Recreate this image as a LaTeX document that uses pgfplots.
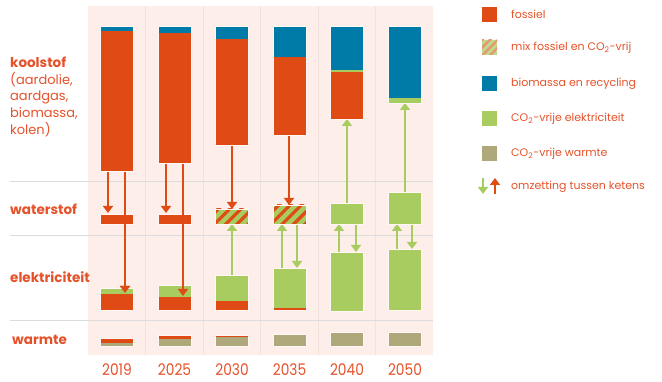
\documentclass[border=0pt]{standalone}
\usepackage{fontspec}
\setmainfont{Poppins}
\usepackage{pgfplots}
\pgfplotsset{compat=1.18}
\usetikzlibrary{arrows.meta,patterns.meta}
\definecolor{fos}{HTML}{E04A14}
\definecolor{bio}{HTML}{007BA7}
\definecolor{grn}{HTML}{A9CC60}
\definecolor{wrm}{HTML}{AEA87A}
\definecolor{txt}{HTML}{E5522A}
\definecolor{bg}{HTML}{FDEEE9}
\definecolor{sep}{HTML}{F1E1DC}
\definecolor{hl}{HTML}{DCDCDC}
% rectangle: x1 x2 ytop ybottom style
\newcommand{\rect}[5]{\addplot[#5] coordinates {(#1,#3) (#2,#3) (#2,#4) (#1,#4)} -- cycle;}
\newcommand{\barr}[5]{\addplot[#5,draw=none] coordinates {(#1,#3) (#2,#3) (#2,#4) (#1,#4)} -- cycle;}
\newcommand{\outl}[4]{\addplot[draw=white!55!bg,line width=0.6pt,fill=none] coordinates {(#1,#3) (#2,#3) (#2,#4) (#1,#4)} -- cycle;}
\newcommand{\arr}[4]{\addplot[#4,line width=1.8pt,-{Triangle[width=10pt,length=7pt]}] coordinates {(#1,#2) (#1,#3)};}
\tikzset{hatch/.style={fill=grn,postaction={pattern={Lines[angle=45,distance=8pt,line width=3.2pt]},pattern color=fos}}}
\begin{document}
\begin{tikzpicture}
\begin{axis}[width=662pt,height=382pt,scale only axis,xmin=0,xmax=662,ymin=0,ymax=382,
  y dir=reverse,hide axis,clip=false]
% full-size invisible frame (bounding box)
\addplot[draw=none] coordinates {(0,0) (662,382)};
% background panel
\rect{88}{433}{6}{355}{fill=bg,draw=none}
% column separators
\addplot[sep,line width=0.8pt] coordinates {(145.5,6) (145.5,355)};
\addplot[sep,line width=0.8pt] coordinates {(203,6) (203,355)};
\addplot[sep,line width=0.8pt] coordinates {(260.5,6) (260.5,355)};
\addplot[sep,line width=0.8pt] coordinates {(318,6) (318,355)};
\addplot[sep,line width=0.8pt] coordinates {(375.5,6) (375.5,355)};
% horizontal separators
\addplot[hl,line width=1pt] coordinates {(10,182) (433,182)};
\addplot[hl,line width=1pt] coordinates {(10,236) (433,236)};
\addplot[hl,line width=1pt] coordinates {(10,321) (433,321)};
% arrows (drawn before bars)
\arr{108}{171}{213}{fos}
\arr{125}{171}{293}{fos}
\arr{166}{163}{213}{fos}
\arr{183}{163}{296}{fos}
\arr{232}{145}{209}{fos}
\arr{289}{135}{205}{fos}
\arr{347}{203}{119}{grn}
\arr{405}{192}{103}{grn}
\arr{232}{275}{224}{grn}
\arr{282}{268}{224}{grn}
\arr{297}{224}{268}{grn}
\arr{339}{252}{224}{grn}
\arr{356}{224}{252}{grn}
\arr{397}{249}{224}{grn}
\arr{412}{224}{249}{grn}
% koolstof
\barr{100.7}{133.3}{26}{31}{fill=bio}
\barr{100.7}{133.3}{31}{171}{fill=fos}
\outl{100.7}{133.3}{26}{171}
\barr{158.2}{190.8}{26}{33}{fill=bio}
\barr{158.2}{190.8}{33}{163}{fill=fos}
\outl{158.2}{190.8}{26}{163}
\barr{215.7}{248.3}{26}{39}{fill=bio}
\barr{215.7}{248.3}{39}{145}{fill=fos}
\outl{215.7}{248.3}{26}{145}
\barr{273.2}{305.8}{26}{57}{fill=bio}
\barr{273.2}{305.8}{57}{135}{fill=fos}
\outl{273.2}{305.8}{26}{135}
\barr{330.7}{363.3}{26}{70}{fill=bio}
\barr{330.7}{363.3}{70}{72.5}{fill=grn}
\barr{330.7}{363.3}{72.5}{119}{fill=fos}
\outl{330.7}{363.3}{26}{119}
\barr{388.7}{421.3}{26}{98}{fill=bio}
\barr{388.7}{421.3}{98}{103}{fill=grn}
\outl{388.7}{421.3}{26}{103}
% waterstof
\barr{100.7}{133.3}{214}{224}{fill=fos}
\outl{100.7}{133.3}{214}{224}
\barr{158.2}{190.8}{214}{224}{fill=fos}
\outl{158.2}{190.8}{214}{224}
\barr{215.7}{248.3}{209}{224}{hatch}
\outl{215.7}{248.3}{209}{224}
\barr{273.2}{305.8}{205}{224}{hatch}
\outl{273.2}{305.8}{205}{224}
\barr{330.7}{363.3}{203}{224}{fill=grn}
\outl{330.7}{363.3}{203}{224}
\barr{388.7}{421.3}{192}{224}{fill=grn}
\outl{388.7}{421.3}{192}{224}
% pass-through arrows over waterstof bars
\addplot[fos,line width=1.8pt] coordinates {(125,213) (125,226)};
\addplot[fos,line width=1.8pt] coordinates {(183,213) (183,226)};
% elektriciteit
\barr{100.7}{133.3}{288}{294}{fill=grn}
\barr{100.7}{133.3}{294}{310}{fill=fos}
\outl{100.7}{133.3}{288}{310}
\barr{158.2}{190.8}{285}{297}{fill=grn}
\barr{158.2}{190.8}{297}{310}{fill=fos}
\outl{158.2}{190.8}{285}{310}
\barr{215.7}{248.3}{275}{301}{fill=grn}
\barr{215.7}{248.3}{301}{310}{fill=fos}
\outl{215.7}{248.3}{275}{310}
\barr{273.2}{305.8}{268}{308}{fill=grn}
\barr{273.2}{305.8}{308}{310}{fill=fos}
\outl{273.2}{305.8}{268}{310}
\barr{330.7}{363.3}{252}{311}{fill=grn}
\outl{330.7}{363.3}{252}{311}
\barr{388.7}{421.3}{249}{310}{fill=grn}
\outl{388.7}{421.3}{249}{310}
% arrow tips into elektriciteit
\arr{125}{283}{293}{fos}
\arr{183}{281}{296}{fos}
% warmte
\barr{100.7}{133.3}{338}{343}{fill=fos}
\barr{100.7}{133.3}{343}{346}{fill=wrm}
\outl{100.7}{133.3}{338}{346}
\barr{158.2}{190.8}{335}{339}{fill=fos}
\barr{158.2}{190.8}{339}{346}{fill=wrm}
\outl{158.2}{190.8}{335}{346}
\barr{215.7}{248.3}{335}{337}{fill=fos}
\barr{215.7}{248.3}{337}{346}{fill=wrm}
\outl{215.7}{248.3}{335}{346}
\barr{273.2}{305.8}{334}{346}{fill=wrm}
\outl{273.2}{305.8}{334}{346}
\barr{330.7}{363.3}{332}{346}{fill=wrm}
\outl{330.7}{363.3}{332}{346}
\barr{388.7}{421.3}{332}{346}{fill=wrm}
\outl{388.7}{421.3}{332}{346}
% legend swatches
\rect{482}{497}{7}{22}{fill=fos,draw=none}
\rect{482}{497}{40}{55}{fill=grn!75!white,draw=none,postaction={pattern={Lines[angle=45,distance=5.5pt,line width=2.2pt]},pattern color=fos!60!white}}
\rect{482}{497}{76}{91}{fill=bio,draw=none}
\rect{482}{497}{111}{126}{fill=grn,draw=none}
\rect{482}{497}{146}{161}{fill=wrm,draw=none}
\arr{483}{178}{194}{grn}
\arr{495}{194}{178}{fos}
% texts
\begin{scope}[every node/.style={text=txt,inner sep=0pt}]
\node[anchor=west,font=\fontsize{13.5}{15}\selectfont\bfseries] at (axis cs:10,62) {koolstof};
\node[anchor=west,font=\fontsize{13}{15}\selectfont] at (axis cs:10,80) {(aardolie,};
\node[anchor=west,font=\fontsize{13}{15}\selectfont] at (axis cs:10,97) {aardgas,};
\node[anchor=west,font=\fontsize{13}{15}\selectfont] at (axis cs:10,113) {biomassa,};
\node[anchor=west,font=\fontsize{13}{15}\selectfont] at (axis cs:10,130) {kolen)};
\node[anchor=west,font=\fontsize{13.5}{15}\selectfont\bfseries] at (axis cs:10,209) {waterstof};
\node[anchor=west,font=\fontsize{13.5}{15}\selectfont\bfseries] at (axis cs:10,277) {elektriciteit};
\node[anchor=west,font=\fontsize{13.5}{15}\selectfont\bfseries] at (axis cs:12,340) {warmte};
\begin{scope}[every node/.append style={xscale=0.86,font=\fontsize{16}{18}\selectfont}]
\node at (axis cs:117,370) {2019};
\node at (axis cs:174.5,370) {2025};
\node at (axis cs:232,370) {2030};
\node at (axis cs:289.5,370) {2035};
\node at (axis cs:347,370) {2040};
\node at (axis cs:405,370) {2050};
\end{scope}
\node[anchor=west,font=\fontsize{11}{13}\selectfont] at (axis cs:511,14.5) {fossiel};
\node[anchor=west,font=\fontsize{11}{13}\selectfont] at (axis cs:511,47.5) {mix fossiel en CO\textsubscript{2}-vrij};
\node[anchor=west,font=\fontsize{11}{13}\selectfont] at (axis cs:511,83.5) {biomassa en recycling};
\node[anchor=west,font=\fontsize{11}{13}\selectfont] at (axis cs:511,118.5) {CO\textsubscript{2}-vrije elektriciteit};
\node[anchor=west,font=\fontsize{11}{13}\selectfont] at (axis cs:511,153.5) {CO\textsubscript{2}-vrije warmte};
\node[anchor=west,font=\fontsize{11}{13}\selectfont] at (axis cs:511,187) {omzetting tussen ketens};
\end{scope}
\end{axis}
\end{tikzpicture}
\end{document}
